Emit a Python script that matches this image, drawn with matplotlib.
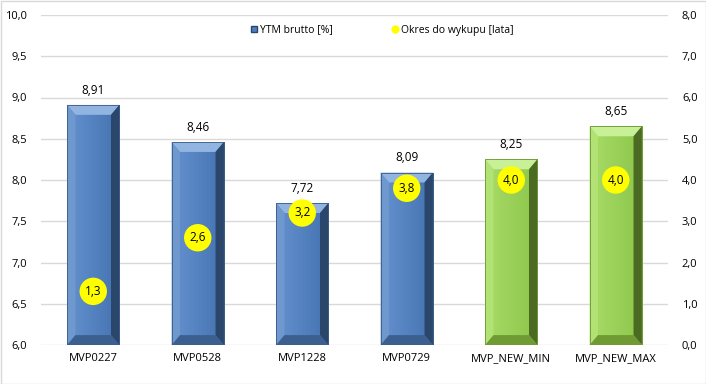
import matplotlib
matplotlib.use("Agg")
import numpy as np
import matplotlib.pyplot as plt
from matplotlib.patches import Polygon, Rectangle
from matplotlib.lines import Line2D
from matplotlib.colors import LinearSegmentedColormap
from matplotlib.ticker import FuncFormatter, MultipleLocator

categories = ["MVP0227", "MVP0528", "MVP1228", "MVP0729", "MVP_NEW_MIN", "MVP_NEW_MAX"]
ytm = [8.91, 8.46, 7.72, 8.09, 8.25, 8.65]
years = [1.3, 2.6, 3.2, 3.8, 4.0, 4.0]
is_new = [False, False, False, False, True, True]

plt.rcParams['font.family'] = ['Open Sans', 'DejaVu Sans']

fig = plt.figure(figsize=(7.06, 3.84), dpi=100)
ax = fig.add_axes([41/706, 1-345/384, (668-41)/706, (345-15)/384])
ax2 = ax.twinx()

ymin, ymax = 6.0, 10.0
ax.set_ylim(ymin, ymax)
ax.set_xlim(-0.5, len(categories)-0.5)
ax2.set_ylim(0, 8)

for a in (ax, ax2):
    for s in a.spines.values():
        s.set_visible(False)
ax.yaxis.set_major_locator(MultipleLocator(0.5))
ax2.yaxis.set_major_locator(MultipleLocator(1.0))
fmt = FuncFormatter(lambda v, p: f"{v:.1f}".replace(".", ","))
ax.yaxis.set_major_formatter(fmt)
ax2.yaxis.set_major_formatter(fmt)
ax.tick_params(axis='y', length=0, labelsize=8, pad=10)
ax2.tick_params(axis='y', length=0, labelsize=8, pad=10)
ax.tick_params(axis='x', length=0, labelsize=8, pad=6)
ax.set_xticks(range(len(categories)))
ax.set_xticklabels(categories)
ax.grid(axis='y', color='#d9d9d9', linewidth=1)
ax.set_axisbelow(True)

blue = dict(f1='#6592cf', f2='#4472b0', top='#92b4e0', left='#6f98cf', right='#2b466b', bottom='#3b5f8f', edge='#3a5a85')
green = dict(f1='#a8dc68', f2='#8cc64a', top='#c8f096', left='#b2e274', right='#4c6b22', bottom='#6f9a34', edge='#6a9633')

w = 0.5
bx = 0.08   # bevel width in x data units
by = 0.12   # bevel height in y data units
grad = np.linspace(0, 1, 64).reshape(1, -1)
for i, v in enumerate(ytm):
    c = green if is_new[i] else blue
    x0, x1 = i - w/2, i + w/2
    y0, y1 = ymin, v
    bars = ax.bar(i, v - ymin, bottom=ymin, width=w, color=c['f2'], edgecolor='none', zorder=2)
    cmap = LinearSegmentedColormap.from_list('g', [c['f1'], c['f2']])
    im = ax.imshow(grad, cmap=cmap, extent=(x0, x1, y0, y1), aspect='auto', zorder=2.5)
    im.set_clip_path(bars[0])
    ax.add_patch(Polygon([(x0, y1), (x1, y1), (x1-bx, y1-by), (x0+bx, y1-by)], closed=True, color=c['top'], lw=0, zorder=3))
    ax.add_patch(Polygon([(x0, y0), (x0, y1), (x0+bx, y1-by), (x0+bx, y0+by)], closed=True, color=c['left'], lw=0, zorder=3))
    ax.add_patch(Polygon([(x1, y0), (x1, y1), (x1-bx, y1-by), (x1-bx, y0+by)], closed=True, color=c['right'], lw=0, zorder=3))
    ax.add_patch(Polygon([(x0, y0), (x1, y0), (x1-bx, y0+by), (x0+bx, y0+by)], closed=True, color=c['bottom'], lw=0, zorder=3))
    ax.add_patch(Rectangle((x0, y0), w, v-ymin, fill=False, edgecolor=c['edge'], lw=0.6, zorder=4))
    ax.annotate(f"{v:.2f}".replace(".", ","), (i, v), xytext=(0, 6), textcoords='offset points',
                ha='center', va='bottom', fontsize=8.5, zorder=5)
ax.set_xlim(-0.5, len(categories)-0.5)
ax.set_ylim(ymin, ymax)

ax2.scatter(range(len(years)), years, s=390, color='#ffff00', edgecolor='none', zorder=6)
for i, v in enumerate(years):
    ax2.text(i, v, f"{v:.1f}".replace(".", ","), ha='center', va='center', fontsize=8.5, zorder=7)

handles = [Line2D([], [], marker='s', color='none', markerfacecolor='#4f7fbf', markeredgecolor='#2b466b', markersize=5),
           Line2D([], [], marker='o', color='none', markerfacecolor='#ffff00', markeredgecolor='none', markersize=6)]
fig.legend(handles, ["YTM brutto [%]", "Okres do wykupu [lata]"], loc='center', bbox_to_anchor=(0.54, 1-30/384),
           ncol=2, frameon=False, fontsize=7.5, handletextpad=0.1, columnspacing=5.5, handlelength=1)

fig.add_artist(Rectangle((0.5/706, 0.5/384), 1-1/706, 1-1/384, transform=fig.transFigure, fill=False,
                         edgecolor='#d9d9d9', lw=1))

fig.savefig("out.png", dpi=100)
